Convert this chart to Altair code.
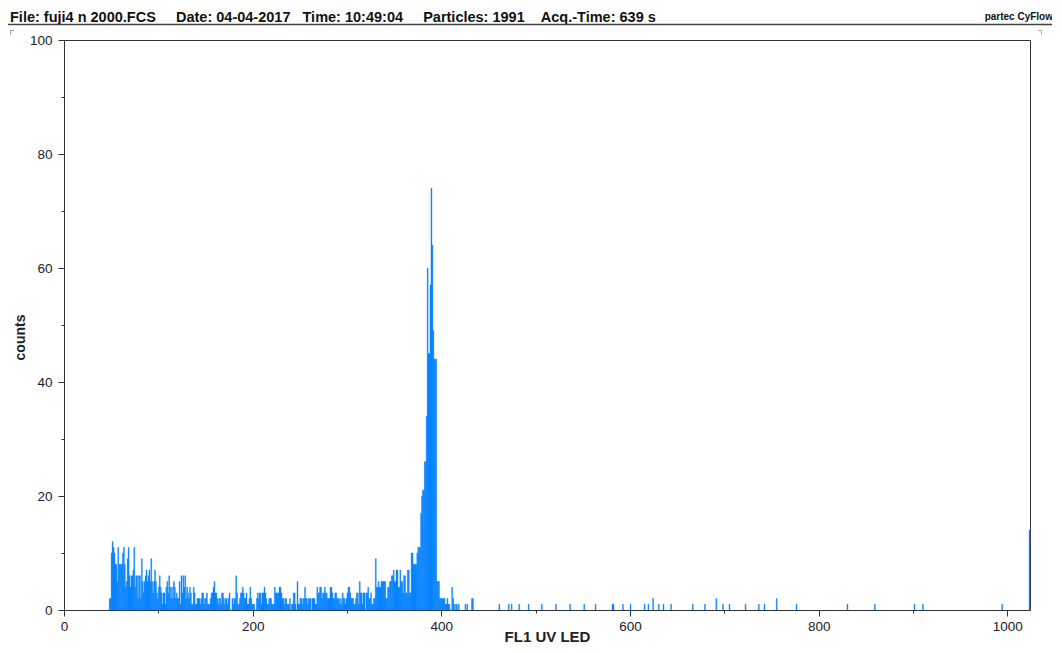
import altair as alt
import pandas as pd

# ---- data ----
low_start = 48
low_counts = [
    2, 2, 10, 12, 11, 10, 8, 8, 5, 11,
    8, 8, 8, 8, 10, 11, 8, 4, 5, 9,
    11, 6, 4, 6, 6, 7, 11, 4, 6, 6,
    2, 6, 6, 2, 9, 5, 3, 5, 6, 7,
    5, 6, 7, 5, 9, 5, 3, 5, 7, 5,
    3, 2, 4, 6, 4, 3, 1, 3, 3, 1,
    4, 5, 3, 6, 4, 2, 4, 2, 5, 4,
    2, 3, 2, 2, 5, 1, 6, 3, 6, 4,
    6, 2, 4, 3, 2, 4, 3, 1, 1, 4,
    3, 1, 1, 2, 2, 2, 1, 2, 3, 3,
    1, 2, 2, 3, 1, 1, 1, 2, 3, 3,
    4, 5, 3, 3, 2, 1, 2, 2, 1, 3,
    3, 2, 1, 2, 2, 1, 2, 3, 0, 0,
    2, 1, 2, 2, 6, 3, 1, 1, 2, 3,
    3, 4, 3, 2, 2, 3, 1, 1, 2, 4,
    2, 1, 1, 1, 0, 0, 2, 3, 2, 3,
    3, 1, 3, 3, 4,
    3, 2, 1, 1, 2, 2, 2, 1, 1, 1,
    4, 3, 3, 3, 3, 4, 4, 3, 2, 2,
    1, 2, 2, 1, 1, 1, 2, 0, 1, 1,
    3, 3, 1, 0, 5, 1, 1, 2, 2, 1,
    2, 2, 4, 2, 2, 1, 2, 2, 2, 0,
    2, 2, 2, 1, 1, 4, 3, 3, 4, 4,
    2, 3, 3, 4, 3, 3, 2, 2, 2, 4,
    4, 3, 2, 2, 3, 3, 2, 2, 2, 1,
    2, 1, 3, 2, 2, 1, 2, 3,
    4, 4, 3, 2, 2, 2, 1, 1, 2, 3,
    3, 1, 5, 3, 3, 1, 3, 3, 0, 3,
    3, 4, 2, 2, 3, 1, 1, 2, 2, 9,
    4, 4, 5, 4, 4, 5, 5, 5, 5, 5,
    2, 2, 4, 4, 5, 5, 6, 6, 7, 5,
    5, 7, 7, 4, 4, 7, 5, 5, 3, 6,
    6, 3, 3, 7, 7, 3, 3, 10, 10, 8,
    8, 8, 8, 10, 11, 11, 11,
]

peak_start = 378
peak_counts = [
    17, 20, 21, 21, 26, 26, 34, 60, 45, 45,
    57, 74, 64, 49, 44, 44, 44, 5, 5, 5,
    2, 2, 2, 2, 2, 2, 1, 1, 2, 1,
    1, 0, 0, 4, 2, 1, 0, 1, 1, 0,
    1,
]

tail_channels = [425, 427, 432, 433, 461, 471, 474, 482, 492, 506,
                 521, 536, 551, 563, 581, 582, 592, 600, 615, 619,
                 624, 630, 635, 643, 666, 679, 691, 698, 705, 722,
                 736, 742, 755, 776, 830, 859, 901, 910, 994, 1023]
tail_counts = [1, 1, 2, 2, 1, 1, 1, 1, 1, 1,
               1, 1, 1, 1, 1, 1, 1, 1, 1, 1,
               2, 1, 1, 1, 1, 1, 2, 1, 1, 1,
               1, 1, 2, 1, 1, 1, 1, 1, 1, 14]

x_ticks = list(range(0, 1001, 100))
y_ticks = list(range(0, 101, 10))

NB = "\u00a0"
header_text = ("File: fuji4 n 2000.FCS" + NB * 5 + "Date: 04-04-2017" + NB * 3
               + "Time: 10:49:04" + NB * 5 + "Particles: 1991" + NB * 4
               + "Acq.-Time: 639 s")
brand_text = "partec CyFlow"

# ---- table ----
channels = (list(range(low_start, low_start + len(low_counts)))
            + list(range(peak_start, peak_start + len(peak_counts)))
            + tail_channels)
counts = low_counts + peak_counts + tail_counts
df = pd.DataFrame({"channel": channels, "count": counts})
df["channel_end"] = df["channel"] + 1

FONT = "Liberation Sans"
DARK = "#333333"
BLUE = "#0080ff"

bars = alt.Chart(df).mark_bar(
    color=BLUE, stroke=BLUE, strokeWidth=0.4, opacity=1
).encode(
    x=alt.X(
        "channel:Q",
        scale=alt.Scale(domain=[0, 1024], nice=False, zero=False),
        axis=alt.Axis(
            values=x_ticks,
            format="d",
            labelExpr="datum.value % 200 === 0 ? datum.label : ''",
            tickSize={"condition": {"test": "datum.value % 200 === 0", "value": 6}, "value": 3},
            labelFontSize=13.5,
            labelFont=FONT,
            labelColor="#222222",
            labelPadding=3,
            labelFlush=False,
            labelOverlap=False,
            domainColor=DARK,
            tickColor=DARK,
            grid=False,
            title="FL1 UV LED",
            titleFont=FONT,
            titleFontSize=15,
            titleFontWeight="bold",
            titleColor="#222222",
            titleBaseline="alphabetic",
            titleY=31,
        ),
    ),
    x2="channel_end:Q",
    y=alt.Y(
        "count:Q",
        scale=alt.Scale(domain=[0, 100], nice=False),
        axis=alt.Axis(
            values=y_ticks,
            format="d",
            labelExpr="datum.value % 20 === 0 ? datum.label : ''",
            tickSize={"condition": {"test": "datum.value % 20 === 0", "value": 6}, "value": 3},
            labelFontSize=13.5,
            labelFont=FONT,
            labelColor="#222222",
            labelPadding=6,
            labelOverlap=False,
            domainColor=DARK,
            tickColor=DARK,
            grid=False,
            title="counts",
            titleFont=FONT,
            titleFontSize=14,
            titleFontWeight="bold",
            titleColor="#222222",
            titleAngle=270,
            titleAlign="center",
            titleBaseline="middle",
            titleX=-44,
            titleY=297,
        ),
    ),
    y2=alt.datum(0),
)

header = alt.Chart(pd.DataFrame({"t": [header_text]})).mark_text(
    align="left", baseline="alphabetic", font=FONT, fontSize=14.5,
    fontWeight="bold", color="#111111",
).encode(text="t:N", x=alt.value(-54), y=alt.value(-18.5))

brand = alt.Chart(pd.DataFrame({"t": [brand_text]})).mark_text(
    align="right", baseline="alphabetic", font=FONT, fontSize=10,
    fontWeight="bold", color="#111111",
).encode(text="t:N", x=alt.value(989), y=alt.value(-20))

header_line = alt.Chart(pd.DataFrame({"a": [0]})).mark_rule(
    color="#444444", strokeWidth=1.5
).encode(x=alt.value(-60), x2=alt.value(995), y=alt.value(-15.5))

corner_color = "#aaaaaa"
c1 = alt.Chart(pd.DataFrame({"a": [0]})).mark_rule(color=corner_color).encode(
    x=alt.value(-54), x2=alt.value(-50), y=alt.value(-9.5))
c2 = alt.Chart(pd.DataFrame({"a": [0]})).mark_rule(color=corner_color).encode(
    x=alt.value(-53.5), y=alt.value(-10), y2=alt.value(-5))
c3 = alt.Chart(pd.DataFrame({"a": [0]})).mark_rule(color=corner_color).encode(
    x=alt.value(974), x2=alt.value(978), y=alt.value(-9.5))
c4 = alt.Chart(pd.DataFrame({"a": [0]})).mark_rule(color=corner_color).encode(
    x=alt.value(977.5), y=alt.value(-10), y2=alt.value(-5))

chart = alt.layer(bars, header, brand, header_line, c1, c2, c3, c4).properties(
    width=966,
    height=570,
    autosize=alt.AutoSizeParams(type="none"),
    padding={"left": 56, "top": 32, "right": 22, "bottom": 34},
    background="white",
).configure_view(stroke=DARK, strokeWidth=1)

chart.save("out.html", embed_options={"renderer": "svg", "actions": False})
